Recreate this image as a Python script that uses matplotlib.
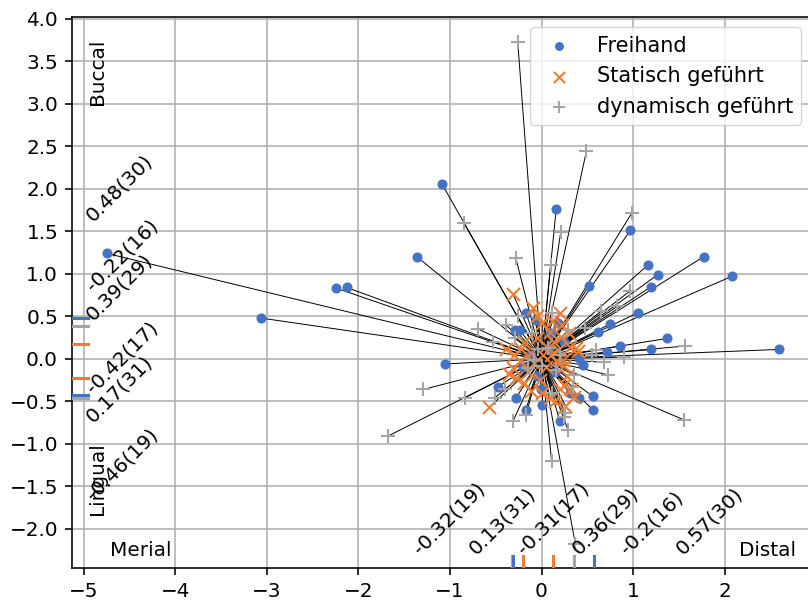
import matplotlib
matplotlib.use('Agg')
import matplotlib.pyplot as plt
import numpy as np

matplotlib.rc('font', size=14.4)
matplotlib.rc('xtick.major', size=5, pad=5, width=1.15)
matplotlib.rc('ytick.major', size=5, pad=5, width=1.15)
matplotlib.rc('axes', linewidth=1.15)
matplotlib.rc('grid', linewidth=1.15)

# deviations (x: mesial/distal, y: buccal/lingual)
freihand_x = [-1.09, 0.16, 0.97, -1.36, 1.16, 1.27, 1.77, 2.08, 1.20, 1.05,
              0.75, 0.62, 1.37, 0.86, 0.72, 1.20, 2.59, -4.75, -2.24, -2.13,
              -3.07, -1.05, -0.48, -0.28, -0.17, 0.00, 0.20, 0.41, 0.56, 0.56,
              0.52, 0.45, -0.29, -0.24, -0.17, -0.06, 0.18, 0.41, 0.31, -0.01,
              0.08, -0.12, 0.15, -0.05, 0.25, -0.20, 0.10]
freihand_y = [2.06, 1.76, 1.51, 1.20, 1.10, 0.99, 1.20, 0.97, 0.85, 0.54,
              0.41, 0.32, 0.24, 0.15, 0.08, 0.11, 0.11, 1.24, 0.83, 0.84,
              0.48, -0.06, -0.33, -0.46, -0.60, -0.54, -0.73, -0.46, -0.44, -0.60,
              0.86, -0.07, 0.34, 0.34, 0.54, 0.46, 0.42, 0.01, -0.40, -0.36,
              0.12, 0.05, -0.15, -0.20, 0.20, -0.10, 0.30]

statisch_x = [-0.31, -0.57, 0.26, -0.09, 0.20, 0.01, 0.09, 0.21, -0.19, 0.31,
              -0.39, -0.11, 0.40, -0.24, 0.16, -0.31, 0.25, -0.28, -0.19, 0.00,
              0.20, 0.25, 0.09, 0.32, 0.38, 0.23, -0.05, 0.12, 0.14, 0.05,
              -0.05, 0.30, -0.30, -0.15, 0.05, -0.08, 0.10, 0.28, -0.12, 0.15,
              0.35, -0.22, 0.02, 0.18, -0.02, 0.22, -0.35]
statisch_y = [0.76, -0.57, -0.55, 0.60, 0.54, 0.42, 0.32, 0.26, 0.20, 0.14,
              0.11, 0.07, 0.09, -0.03, -0.03, -0.11, -0.09, -0.23, -0.29, -0.40,
              -0.36, -0.31, -0.46, -0.36, 0.13, -0.01, 0.50, 0.45, 0.20, 0.15,
              0.25, 0.30, 0.05, -0.15, -0.10, -0.05, 0.05, -0.20, -0.38, -0.50,
              -0.45, 0.12, 0.05, 0.10, -0.25, 0.40, -0.18]

dynamisch_x = [-0.26, 0.49, -0.85, 0.21, 0.99, -0.28, 0.10, 0.97, 0.83, 0.65,
               1.57, 0.90, 0.68, 0.73, 1.56, -1.29, -0.84, -1.68, -0.51, -0.40,
               -0.31, -0.17, 0.29, 0.26, 0.11, 0.37, -0.69, -0.53, -0.39, -0.26,
               0.12, 0.29, 0.47, 0.55, -0.29, -0.04, 0.07, -0.08, 0.01, -0.15,
               0.16, 0.36, 0.12, 0.34, 0.25, 0.60, -0.10, 0.20]
dynamisch_y = [3.73, 2.44, 1.60, 1.49, 1.72, 1.18, 1.10, 0.80, 0.62, 0.56,
               0.15, 0.02, -0.04, -0.19, -0.72, -0.36, -0.46, -0.91, -0.46, -0.36,
               -0.73, -0.66, -0.84, -0.64, -1.20, -2.18, 0.35, 0.20, 0.40, 0.50,
               0.54, 0.34, 0.36, 0.05, 0.24, 0.11, 0.13, -0.01, -0.09, -0.11,
               -0.13, -0.19, -0.40, -0.33, -0.68, 0.10, 0.30, 0.05]

# mean of positive / negative deviations with counts
y_means = [0.48, -0.22, 0.39, -0.42, 0.17, -0.46]
y_counts = [30, 16, 29, 17, 31, 19]
y_colors = ['#4472C4', '#ED7D31', '#A5A5A5', '#4472C4', '#ED7D31', '#A5A5A5']
x_means = [0.57, -0.2, 0.36, -0.31, 0.13, -0.32]
x_counts = [30, 16, 29, 17, 31, 19]
x_colors = ['#4472C4', '#ED7D31', '#A5A5A5', '#4472C4', '#ED7D31', '#A5A5A5']

# label placement (layout only)
y_label_pos = [1.61, 0.78, 0.44, -0.42, -0.76, -1.68]
x_label_pos = [1.54, 0.94, 0.41, -0.19, -0.72, -1.33]

fig = plt.figure(figsize=(8.08, 6), dpi=100)
ax = fig.add_axes([72 / 808, 32 / 600, 739.5 / 808, 551 / 600])
ax.set_axisbelow(True)

groups = [
    (freihand_x, freihand_y, 'o', '#4472C4', 33, 'Freihand'),
    (statisch_x, statisch_y, 'x', '#ED7D31', 88, 'Statisch geführt'),
    (dynamisch_x, dynamisch_y, '+', '#A5A5A5', 88, 'dynamisch geführt'),
]
for xs, ys, m, c, s, lab in groups:
    for x, y in zip(xs, ys):
        ax.plot([0, x], [0, y], color='black', lw=0.7, zorder=2)
    ax.scatter(xs, ys, marker=m, color=c, s=s, linewidths=1.5, label=lab, zorder=3)

for mu, c in zip(y_means, y_colors):
    ax.axhline(mu, xmin=0, xmax=0.022, color=c, lw=2.2, zorder=4)
for mu, c in zip(x_means[::-1], x_colors[::-1]):
    ax.axvline(mu, ymin=0, ymax=0.022, color=c, lw=2.2, zorder=4)

for mu, n, yp in zip(y_means, y_counts, y_label_pos):
    ax.text(-4.9, yp, f'{mu}({n})', rotation=45, rotation_mode='anchor',
            ha='left', va='baseline')
for mu, n, xp in zip(x_means, x_counts, x_label_pos):
    ax.text(xp, -2.31, f'{mu}({n})', rotation=45, rotation_mode='anchor',
            ha='left', va='baseline')

ax.text(-4.95, 3.77, 'Buccal', rotation=90, ha='left', va='top')
ax.text(-4.95, -1.84, 'Lingual', rotation=90, ha='left', va='bottom')
ax.text(-4.71, -2.26, 'Merial', ha='left', va='center')
ax.text(2.16, -2.26, 'Distal', ha='left', va='center')

ax.set_xlim(-5.13, 2.95)
ax.set_ylim(-2.46, 4.02)
ax.set_yticks(np.arange(-2.0, 4.01, 0.5))
ax.grid(True)
ax.legend(loc='upper right', fontsize=15, markerscale=0.85)

plt.savefig('out.png', dpi=100)
